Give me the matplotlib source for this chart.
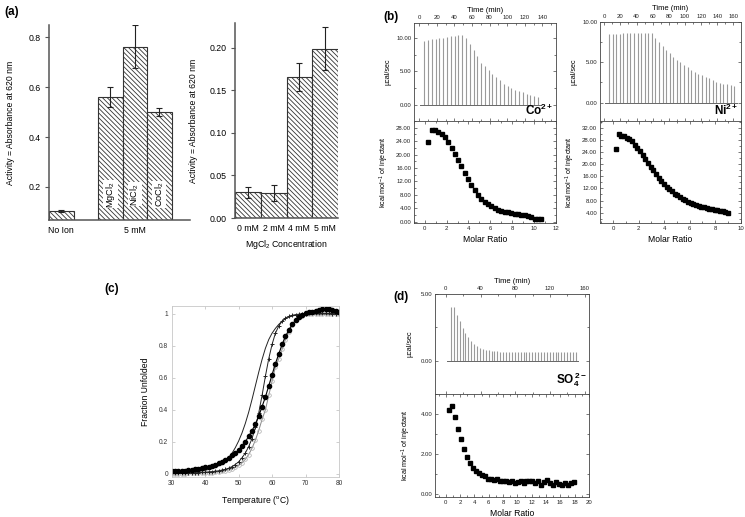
import matplotlib
matplotlib.use('Agg')
import matplotlib.pyplot as plt
import numpy as np
from matplotlib.ticker import MultipleLocator, FormatStrFormatter

plt.rcParams['font.family'] = ['Liberation Sans', 'DejaVu Sans']
plt.rcParams['mathtext.fontset'] = 'custom'
plt.rcParams['mathtext.rm'] = 'Liberation Sans'
plt.rcParams['mathtext.it'] = 'Liberation Sans:italic'
plt.rcParams['mathtext.bf'] = 'Liberation Sans:bold'
plt.rcParams['hatch.linewidth'] = 0.6

# (a) activity with metal ions
ion_labels = ['No Ion', 'MgCl$_2$', 'NiCl$_2$', 'CoCl$_2$']
ion_act = [0.104, 0.560, 0.763, 0.502]
ion_err = [0.005, 0.041, 0.085, 0.016]

mg_labels = ['0 mM', '2 mM', '4 mM', '5 mM']
mg_act = [0.030, 0.029, 0.166, 0.199]
mg_err = [0.0065, 0.0095, 0.0165, 0.0255]

# (b) ITC, Co2+
co_h = [9.5, 9.65, 9.75, 9.85, 9.9, 9.95, 10.1, 10.2, 10.25, 10.35,
        10.35, 9.9, 9.0, 8.15, 7.25, 6.25, 5.75, 5.25, 4.65, 4.15,
        3.65, 3.15, 2.75, 2.5, 2.25, 2.0, 1.85, 1.65, 1.5, 1.35, 1.15]
co_t = 5.7 + 4.31 * np.arange(len(co_h))
co_ratio = [0.31, 0.61, 0.92, 1.22, 1.53, 1.83, 2.14, 2.45, 2.75, 3.06,
            3.36, 3.67, 3.98, 4.28, 4.59, 4.89, 5.20, 5.50, 5.81, 6.12,
            6.42, 6.73, 7.03, 7.34, 7.65, 7.95, 8.26, 8.56, 8.87, 9.17,
            9.48, 9.79, 10.09, 10.40, 10.70]
co_kcal = [23.8, 27.2, 27.3, 26.8, 26.1, 25.2, 23.8, 22.1, 20.3, 18.4,
           16.5, 14.5, 12.6, 10.8, 9.3, 8.0, 6.9, 6.0, 5.3, 4.6,
           4.0, 3.6, 3.2, 2.9, 2.75, 2.5, 2.35, 2.2, 2.05, 1.9,
           1.75, 1.3, 0.9, 0.8, 0.8]

# (b) ITC, Ni2+
ni_h = [8.5, 8.5, 8.55, 8.55, 8.6, 8.6, 8.6, 8.6, 8.65, 8.65,
        8.7, 8.7, 8.6, 8.0, 7.5, 7.0, 6.5, 6.1, 5.7, 5.3,
        5.0, 4.7, 4.4, 4.1, 3.85, 3.6, 3.4, 3.2, 3.0, 2.8,
        2.6, 2.45, 2.35, 2.25, 2.15, 2.05]
ni_t = 5.8 + 4.43 * np.arange(len(ni_h))
ni_ratio = [0.21, 0.42, 0.63, 0.84, 1.05, 1.26, 1.47, 1.68, 1.88, 2.09,
            2.30, 2.51, 2.72, 2.93, 3.14, 3.35, 3.56, 3.77, 3.98, 4.19,
            4.40, 4.61, 4.82, 5.03, 5.24, 5.45, 5.65, 5.86, 6.07, 6.28,
            6.49, 6.70, 6.91, 7.12, 7.33, 7.54, 7.75, 7.96, 8.17, 8.38,
            8.59, 8.80, 9.01]
ni_kcal = [25.0, 29.9, 29.4, 29.1, 28.7, 28.3, 27.5, 26.4, 25.3, 24.2,
           23.0, 21.8, 20.5, 19.2, 17.9, 16.7, 15.5, 14.5, 13.5, 12.6,
           11.8, 11.0, 10.3, 9.7, 9.1, 8.6, 8.1, 7.6, 7.2, 6.8,
           6.5, 6.2, 6.0, 5.8, 5.5, 5.3, 5.1, 4.9, 4.75, 4.6,
           4.4, 4.2, 4.0]

# (c) thermal unfolding
temp = list(range(30, 81))
unf_a = [0.004, 0.005, 0.006, 0.007, 0.008, 0.010, 0.012, 0.014, 0.016, 0.019, 0.022,
         0.027, 0.033, 0.040, 0.050, 0.063, 0.080, 0.100, 0.128, 0.163, 0.205,
         0.255, 0.315, 0.385, 0.465, 0.550, 0.635, 0.715, 0.785, 0.840, 0.880,
         0.910, 0.935, 0.955, 0.970, 0.980, 0.987, 0.992, 0.996, 0.998, 1.000,
         1.0, 1.0, 1.0, 1.0, 1.0, 1.0, 1.0, 1.0, 1.0, 1.0]
unf_b = [0.003, 0.003, 0.004, 0.004, 0.005, 0.005, 0.006, 0.007, 0.008, 0.009, 0.010,
         0.012, 0.014, 0.016, 0.019, 0.023, 0.028, 0.035, 0.045, 0.058, 0.075,
         0.100, 0.130, 0.170, 0.220, 0.290, 0.380, 0.490, 0.610, 0.720, 0.810,
         0.880, 0.925, 0.955, 0.975, 0.985, 0.992, 0.996, 0.999, 1.000, 1.003,
         1.005, 1.006, 1.006, 1.006, 1.005, 1.005, 1.004, 1.003, 1.002, 1.000]
unf_c = [0.015, 0.016, 0.017, 0.018, 0.020, 0.022, 0.025, 0.028, 0.032, 0.036, 0.040,
         0.045, 0.050, 0.057, 0.065, 0.075, 0.088, 0.100, 0.115, 0.130, 0.150,
         0.175, 0.200, 0.235, 0.270, 0.310, 0.360, 0.420, 0.480, 0.550, 0.620,
         0.690, 0.750, 0.810, 0.860, 0.900, 0.935, 0.960, 0.980, 0.995, 1.005,
         1.010, 1.015, 1.020, 1.025, 1.030, 1.030, 1.030, 1.025, 1.020, 1.015]
unf_d = [0.000, 0.000, 0.000, 0.001, 0.001, 0.002, 0.002, 0.003, 0.004, 0.005, 0.006,
         0.007, 0.008, 0.010, 0.012, 0.015, 0.019, 0.024, 0.031, 0.040, 0.052,
         0.068, 0.090, 0.120, 0.160, 0.210, 0.270, 0.340, 0.400, 0.490, 0.580,
         0.670, 0.720, 0.780, 0.840, 0.890, 0.930, 0.960, 0.980, 0.990, 1.000,
         1.0, 1.0, 1.0, 1.0, 1.0, 1.0, 1.0, 1.0, 1.0, 1.0]

# (d) ITC, sulfate
so_h = [4.0, 4.05, 3.45, 2.95, 2.45, 2.05, 1.75, 1.5, 1.25, 1.1,
        0.95, 0.88, 0.83, 0.78, 0.75, 0.72, 0.70, 0.68, 0.68, 0.67,
        0.67, 0.66, 0.66, 0.65, 0.65, 0.65, 0.64, 0.64, 0.64, 0.63,
        0.63, 0.63, 0.63, 0.62, 0.62, 0.62, 0.62, 0.62, 0.62, 0.62,
        0.62, 0.62, 0.62, 0.62]
so_t = 5.8 + 3.35 * np.arange(len(so_h))
so_ratio = [0.42, 0.84, 1.25, 1.67, 2.09, 2.50, 2.92, 3.34, 3.76, 4.18,
            4.59, 5.01, 5.43, 5.85, 6.26, 6.68, 7.10, 7.52, 7.93, 8.35,
            8.77, 9.19, 9.60, 10.02, 10.44, 10.86, 11.27, 11.69, 12.11, 12.53,
            12.94, 13.36, 13.78, 14.20, 14.62, 15.03, 15.45, 15.87, 16.29, 16.71,
            17.12, 17.54, 17.96]
so_kcal = [4.18, 4.42, 3.85, 3.28, 2.74, 2.28, 1.87, 1.57, 1.32, 1.17,
           1.05, 0.99, 0.92, 0.79, 0.77, 0.74, 0.77, 0.69, 0.69, 0.67,
           0.64, 0.65, 0.57, 0.64, 0.69, 0.57, 0.65, 0.65, 0.65, 0.57,
           0.69, 0.45, 0.64, 0.70, 0.55, 0.49, 0.64, 0.50, 0.49, 0.59,
           0.47, 0.55, 0.64]

W, H = 745, 517
fig = plt.figure(figsize=(W / 100, H / 100), dpi=100)


def box(l, t, r, b):
    return fig.add_axes([l / W, 1 - b / H, (r - l) / W, (b - t) / H])


hatch = '\\' * 7
bar_kw = dict(width=1.0, color='white', edgecolor='#333333', linewidth=0.8, hatch=hatch)
err_kw = dict(fmt='none', ecolor='#222222', elinewidth=0.8, capsize=2.2, capthick=0.8)


def bar_style(ax):
    for s in ['top', 'right']:
        ax.spines[s].set_visible(False)
    for s in ['left', 'bottom']:
        ax.spines[s].set_linewidth(1.1)
        ax.spines[s].set_color('#555555')
    ax.tick_params(axis='y', direction='out', length=3, width=0.8, labelsize=6.3,
                   color='#555555', pad=3)
    ax.tick_params(axis='x', length=0, labelsize=6.3, pad=4)
    ax.set_ylabel('Activity = Absorbance at 620 nm', fontsize=6.2)


# ---- (a) left
ax = box(49, 25, 190, 220)
pos = [0.5, 2.5, 3.5, 4.5]
ax.bar(pos, ion_act, **bar_kw)
ax.errorbar(pos, ion_act, yerr=ion_err, **err_kw)
for p, lab in zip(pos[1:], ion_labels[1:]):
    ax.text(p, 0.17, lab, rotation=90, ha='center', va='center', fontsize=6.6,
            bbox=dict(fc='white', ec='none', pad=0.6))
ax.set_xlim(0, 5.75)
ax.set_ylim(0.067, 0.85)
ax.set_yticks([0.2, 0.4, 0.6, 0.8])
ax.set_xticks([0.5, 3.5])
ax.set_xticklabels([ion_labels[0], '5 mM'])
bar_style(ax)
ax.yaxis.set_label_coords(-0.24, 0.5)

# ---- (a) right
ax = box(235, 23, 338, 218)
pos = [0.5, 1.5, 2.5, 3.5]
ax.bar(pos, mg_act, **bar_kw)
ax.errorbar(pos, mg_act, yerr=mg_err, **err_kw)
ax.set_xlim(0, 4)
ax.set_ylim(0, 0.229)
ax.yaxis.set_major_locator(MultipleLocator(0.05))
ax.yaxis.set_major_formatter(FormatStrFormatter('%.2f'))
ax.set_xticks(pos)
ax.set_xticklabels(mg_labels)
bar_style(ax)
ax.set_xlabel('MgCl$_2$ Concentration', fontsize=6.3, labelpad=4)
ax.yaxis.set_label_coords(-0.36, 0.5)


# ---- ITC helpers
def itc_axes(l, t, r, b):
    ax = box(l, t, r, b)
    for s in ax.spines.values():
        s.set_linewidth(0.6)
        s.set_color('#444444')
    ax.tick_params(which='both', direction='in', top=True, right=True,
                   labelsize=4.3, width=0.5, color='#444444', labelcolor='#222222', pad=2)
    ax.tick_params(which='major', length=2.5)
    ax.tick_params(which='minor', length=1.4)
    return ax


def draw_raw(ax, t, h, xlim, ylim, xmaj, ylab_x):
    ax.vlines(t, 0, h, color='#9a9a9a', lw=0.8)
    ax.plot([t[0] - 5, t[-1] + 3], [0, 0], color='#666666', lw=0.7)
    ax.set_xlim(xlim)
    ax.set_ylim(ylim)
    ax.xaxis.set_major_locator(MultipleLocator(xmaj))
    ax.xaxis.set_minor_locator(MultipleLocator(xmaj / 2))
    ax.yaxis.set_major_locator(MultipleLocator(5))
    ax.yaxis.set_minor_locator(MultipleLocator(2.5))
    ax.yaxis.set_major_formatter(FormatStrFormatter('%.2f'))
    ax.tick_params(labeltop=True, labelbottom=False)
    ax.xaxis.set_label_position('top')
    ax.set_xlabel('Time (min)', fontsize=5.5, labelpad=2.5)
    ax.set_ylabel('µcal/sec', fontsize=5.2)
    ax.yaxis.set_label_coords(ylab_x, 0.5)


def draw_bind(ax, x, y, xlim, ylim, xmaj, ymaj, ylab_x):
    ax.plot(x, y, 's', color='black', ms=2.6)
    ax.set_xlim(xlim)
    ax.set_ylim(ylim)
    ax.xaxis.set_major_locator(MultipleLocator(xmaj))
    ax.xaxis.set_minor_locator(MultipleLocator(xmaj / 2))
    ax.yaxis.set_major_locator(MultipleLocator(ymaj))
    ax.yaxis.set_minor_locator(MultipleLocator(ymaj / 2))
    ax.yaxis.set_major_formatter(FormatStrFormatter('%.2f'))
    ax.set_xlabel('Molar Ratio', fontsize=6.2, labelpad=3)
    ax.set_ylabel(r'kcal mol$^{-1}$ of injectant', fontsize=5.2)
    ax.yaxis.set_label_coords(ylab_x, 0.5)


# ---- (b) Co2+
ax = itc_axes(414, 23, 555.5, 121)
draw_raw(ax, co_t, co_h, (-6, 155), (-2.4, 12.2), 20, -0.16)
ax.text(0.985, 0.03, r'$\mathbf{Co^{2+}}$', transform=ax.transAxes,
        ha='right', va='bottom', fontsize=8.5)
ax = itc_axes(414, 121, 555.5, 223)
draw_bind(ax, co_ratio, co_kcal, (-1, 12), (-0.4, 30), 2, 4, -0.16)

# ---- (b) Ni2+
ax = itc_axes(600, 21.7, 740.7, 121)
draw_raw(ax, ni_t, ni_h, (-5.3, 169), (-2.3, 10.05), 20, -0.16)
ax.text(0.985, 0.03, r'$\mathbf{Ni^{2+}}$', transform=ax.transAxes,
        ha='right', va='bottom', fontsize=8.5)
ax = itc_axes(600, 121, 740.7, 223)
draw_bind(ax, ni_ratio, ni_kcal, (-1.04, 10), (0.6, 34.2), 2, 4, -0.16)

# ---- (d) SO4 2-
ax = itc_axes(435, 294, 589, 394)
draw_raw(ax, so_t, so_h, (-12.5, 165), (-2.5, 5.0), 40, -0.14)
ax.text(0.985, 0.05, r'$\mathbf{SO_4^{\,2-}}$', transform=ax.transAxes,
        ha='right', va='bottom', fontsize=8.5)
ax = itc_axes(435, 394, 589, 497)
draw_bind(ax, so_ratio, so_kcal, (-1.5, 20), (-0.13, 5.0), 2, 2, -0.14)

# ---- (c) unfolding
ax = box(171.7, 306, 339, 477)
ax.plot(temp, unf_d, '-', color='#888888', lw=0.7, marker='o', ms=2.6,
        mfc='none', mec='#aaaaaa', mew=0.5)
ax.plot(temp, unf_a, '-', color='#222222', lw=0.7)
ax.plot(temp, unf_b, '-', color='#222222', lw=0.7, marker='+', ms=3.2, mew=0.7)
ax.plot(temp, unf_c, '-', color='black', lw=0.8, marker='o', ms=3.0)
ax.set_xlim(30, 80)
ax.set_ylim(-0.02, 1.05)
ax.xaxis.set_major_locator(MultipleLocator(10))
ax.yaxis.set_major_locator(MultipleLocator(0.2))
ax.yaxis.set_major_formatter(FormatStrFormatter('%g'))
for s in ax.spines.values():
    s.set_color('#c8c8c8')
    s.set_linewidth(0.6)
ax.tick_params(direction='in', top=True, right=True, length=2, width=0.5,
               color='#bbbbbb', labelsize=4.8, labelcolor='#333333', pad=2.5)
ax.set_xlabel(r'Temperature ($^{\mathrm{o}}$C)', fontsize=6.2, labelpad=5)
ax.set_ylabel('Fraction Unfolded', fontsize=6.2)
ax.yaxis.set_label_coords(-0.13, 0.5)

# panel letters
for x, y, s in [(4, 12, '(a)'), (383, 17, '(b)'), (104, 289, '(c)'), (393, 297, '(d)')]:
    fig.text(x / W, 1 - y / H, s, fontsize=8.5, fontweight='bold', va='center', ha='left')

fig.savefig('out.png', dpi=100)
